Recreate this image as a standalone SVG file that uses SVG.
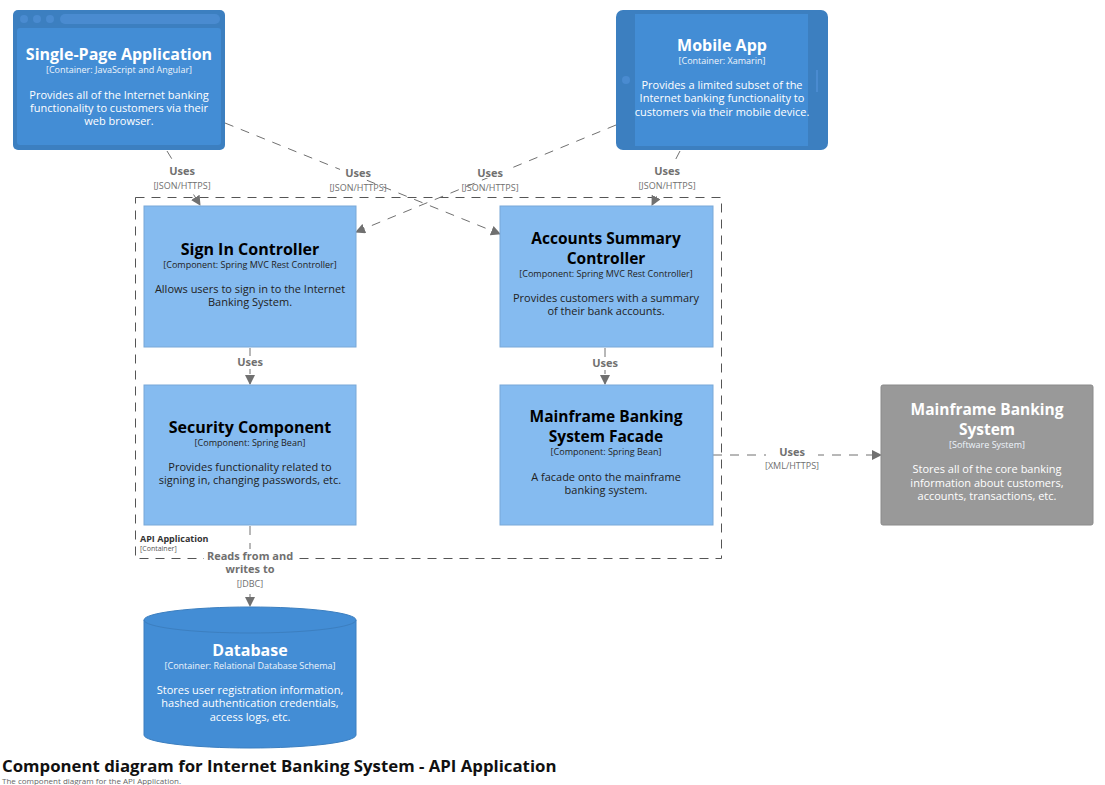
<svg xmlns="http://www.w3.org/2000/svg" width="1105" height="785" viewBox="0 0 1105 785">
<defs>
<marker id="arr" viewBox="0 0 10 10" refX="9" refY="5" markerWidth="10" markerHeight="10" markerUnits="userSpaceOnUse" orient="auto"><path d="M0,0 L10,5 L0,10 z" fill="#707070"/></marker>
<style>
text{font-family:"Open Sans","Noto Sans","Liberation Sans",sans-serif;text-anchor:middle}
.t{font-size:16px;font-weight:bold}
.t2{font-size:15.5px;font-weight:bold}
.ty{font-size:9px}
.d{font-size:11px}
.w{fill:#ffffff}
.k{fill:#000000}
.kd{fill:#222222}
.wd{fill:#eef4fb}
.lbl{font-size:11px;font-weight:bold;fill:#707070}
.tech{font-size:9px;fill:#707070}
.con{stroke:#707070;stroke-width:1;fill:none;stroke-dasharray:9,8;marker-end:url(#arr)}
.comp{fill:#85bbf0;stroke:#78a8d8;stroke-width:1}
</style>
</defs>
<rect width="1105" height="785" fill="#ffffff"/>

<g id="boundary">
<rect x="135.5" y="197.5" width="586" height="361" fill="none" stroke="#555555" stroke-width="1" stroke-dasharray="9,7"/>
<text x="140" y="542" style="text-anchor:start;font-size:9px;font-weight:bold;fill:#333333">API Application</text>
<text x="140" y="551" style="text-anchor:start;font-size:7px;fill:#555555">[Container]</text>
</g>

<g id="connectors">
<line class="con" x1="167" y1="151" x2="200" y2="205"/>
<line class="con" x1="225" y1="123" x2="500" y2="234"/>
<line class="con" x1="616" y1="125" x2="356" y2="232"/>
<line class="con" x1="680" y1="151" x2="652" y2="205"/>
<line class="con" x1="250" y1="348" x2="250" y2="384"/>
<line class="con" x1="605" y1="348" x2="605" y2="384"/>
<line class="con" x1="713" y1="455" x2="881" y2="455"/>
<line class="con" x1="250" y1="526" x2="250" y2="606"/>
<g>
<rect x="156" y="163" width="52" height="27" fill="#ffffff"/>
<text class="lbl" x="182" y="175">Uses</text>
<text class="tech" x="182" y="189">[JSON/HTTPS]</text>
<rect x="340" y="166" width="36" height="12" fill="#ffffff"/>
<text class="lbl" x="358" y="177">Uses</text>
<text class="tech" x="358" y="191">[JSON/HTTPS]</text>
<rect x="472" y="166" width="36" height="12" fill="#ffffff"/>
<text class="lbl" x="490" y="177">Uses</text>
<text class="tech" x="490" y="191">[JSON/HTTPS]</text>
<rect x="641" y="163" width="52" height="27" fill="#ffffff"/>
<text class="lbl" x="667" y="175">Uses</text>
<text class="tech" x="667" y="189">[JSON/HTTPS]</text>
<rect x="234" y="356" width="32" height="13" fill="#ffffff"/>
<text class="lbl" x="250" y="366">Uses</text>
<rect x="589" y="357" width="32" height="13" fill="#ffffff"/>
<text class="lbl" x="605" y="367">Uses</text>
<rect x="766" y="445" width="52" height="26" fill="#ffffff"/>
<text class="lbl" x="792" y="456">Uses</text>
<text class="tech" x="792" y="469">[XML/HTTPS]</text>
<rect x="204" y="549" width="92" height="40" fill="#ffffff"/>
<text class="lbl" x="250" y="560">Reads from and</text>
<text class="lbl" x="250" y="573">writes to</text>
<text class="tech" x="250" y="587">[JDBC]</text>
</g>
</g>

<g id="spa">
<rect x="13" y="10" width="212" height="140" rx="5" fill="#3c7fc0"/>
<circle cx="24" cy="19" r="4" fill="#4a8bd0"/>
<circle cx="37" cy="19" r="4" fill="#4a8bd0"/>
<circle cx="50" cy="19" r="4" fill="#4a8bd0"/>
<rect x="60" y="14" width="160" height="10" rx="5" fill="#4a8bd0"/>
<rect x="17" y="28" width="204" height="117" rx="3" fill="#438dd5"/>
<text class="t w" x="119" y="60">Single-Page Application</text>
<text class="ty wd" x="119" y="73">[Container: JavaScript and Angular]</text>
<text class="d w" x="119" y="99">Provides all of the Internet banking</text>
<text class="d w" x="119" y="112">functionality to customers via their</text>
<text class="d w" x="119" y="125">web browser.</text>
</g>

<g id="mobile">
<rect x="616" y="10" width="212" height="140" rx="7" fill="#3c7fc0"/>
<rect x="635" y="14" width="173" height="132" fill="#438dd5"/>
<circle cx="626" cy="80" r="4" fill="#4a8bd0"/>
<rect x="816" y="70" width="2" height="22" fill="#4a8bd0"/>
<text class="t w" x="722" y="51">Mobile App</text>
<text class="ty wd" x="722" y="64">[Container: Xamarin]</text>
<text class="d w" x="722" y="89">Provides a limited subset of the</text>
<text class="d w" x="722" y="102">Internet banking functionality to</text>
<text class="d w" x="722" y="116">customers via their mobile device.</text>
</g>

<g id="signin">
<rect class="comp" x="144" y="206" width="212" height="141"/>
<text class="t k" x="250" y="255">Sign In Controller</text>
<text class="ty kd" x="250" y="268">[Component: Spring MVC Rest Controller]</text>
<text class="d kd" x="250" y="293">Allows users to sign in to the Internet</text>
<text class="d kd" x="250" y="306">Banking System.</text>
</g>

<g id="accounts">
<rect class="comp" x="500" y="206" width="213" height="141"/>
<text class="t2 k" x="606" y="244">Accounts Summary</text>
<text class="t2 k" x="606" y="264">Controller</text>
<text class="ty kd" x="606" y="277">[Component: Spring MVC Rest Controller]</text>
<text class="d kd" x="606" y="302">Provides customers with a summary</text>
<text class="d kd" x="606" y="315">of their bank accounts.</text>
</g>

<g id="security">
<rect class="comp" x="144" y="385" width="212" height="140"/>
<text class="t k" x="250" y="433">Security Component</text>
<text class="ty kd" x="250" y="446">[Component: Spring Bean]</text>
<text class="d kd" x="250" y="471">Provides functionality related to</text>
<text class="d kd" x="250" y="484">signing in, changing passwords, etc.</text>
</g>

<g id="facade">
<rect class="comp" x="500" y="385" width="213" height="140"/>
<text class="t2 k" x="606" y="422">Mainframe Banking</text>
<text class="t2 k" x="606" y="442">System Facade</text>
<text class="ty kd" x="606" y="455">[Component: Spring Bean]</text>
<text class="d kd" x="606" y="481">A facade onto the mainframe</text>
<text class="d kd" x="606" y="494">banking system.</text>
</g>

<g id="mainframe">
<rect x="881" y="385" width="212" height="140" rx="2" fill="#999999" stroke="#8a8a8a"/>
<text class="t2 w" x="987" y="415">Mainframe Banking</text>
<text class="t2 w" x="987" y="435">System</text>
<text class="ty wd" x="987" y="448">[Software System]</text>
<text class="d w" x="987" y="473">Stores all of the core banking</text>
<text class="d w" x="987" y="487">information about customers,</text>
<text class="d w" x="987" y="500">accounts, transactions, etc.</text>
</g>

<g id="database">
<path d="M144,620 A106,13 0 0 1 356,620 L356,735 A106,13 0 0 1 144,735 Z" fill="#438dd5" stroke="#3c7fc0"/>
<path d="M144,620 A106,13 0 0 0 356,620" fill="none" stroke="#3c7fc0"/>
<text class="t w" x="250" y="656">Database</text>
<text class="ty wd" x="250" y="669">[Container: Relational Database Schema]</text>
<text class="d w" x="250" y="694">Stores user registration information,</text>
<text class="d w" x="250" y="707">hashed authentication credentials,</text>
<text class="d w" x="250" y="721">access logs, etc.</text>
</g>

<g id="title">
<text x="2" y="772" style="text-anchor:start;font-size:16.8px;font-weight:bold;fill:#111111">Component diagram for Internet Banking System - API Application</text>
<text x="2" y="784" style="text-anchor:start;font-size:8px;fill:#666666">The component diagram for the API Application.</text>
</g>
</svg>
